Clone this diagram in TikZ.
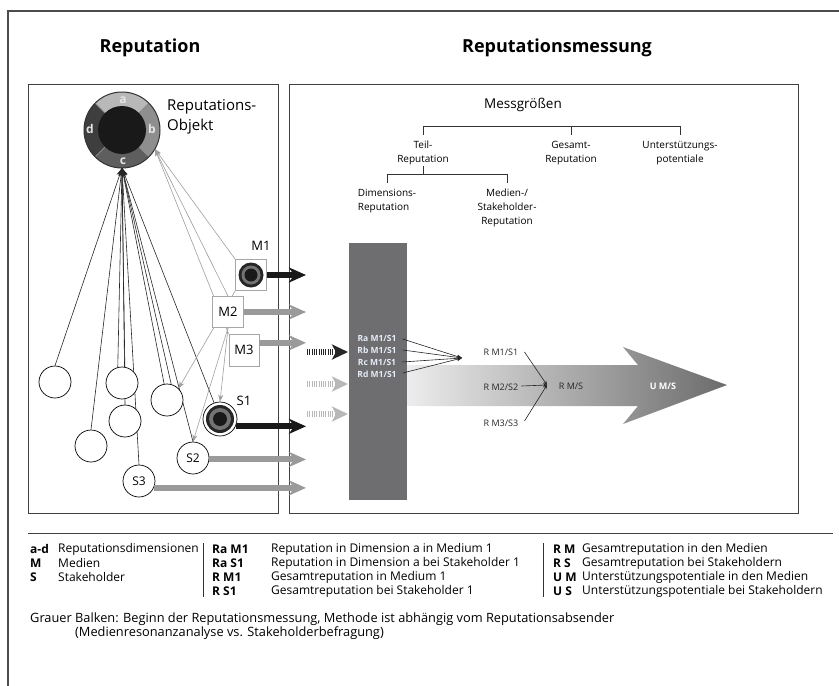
\documentclass[tikz,border=0pt]{standalone}
\usepackage{fontspec}
\setmainfont{Open Sans}
\usetikzlibrary{arrows.meta,positioning}

\definecolor{ringA}{HTML}{B8B8B8}
\definecolor{ringB}{HTML}{8E8E8E}
\definecolor{ringC}{HTML}{5E5E5E}
\definecolor{ringD}{HTML}{3E3E3E}
\definecolor{barGrey}{HTML}{6E6E70}
\definecolor{barText}{HTML}{E6ECF8}
\definecolor{arrGrey}{HTML}{9A9A9A}

\newcommand{\fsz}[2]{\fontsize{#1}{#2}\selectfont}

\begin{document}
\begin{tikzpicture}%
  [x=1pt, y=-1pt,
   >=Stealth,
   frame/.style={draw=black!75, line width=1pt},
   title/.style={font=\bfseries\fsz{18}{21}},
   smallcirc/.style={circle, draw=black, fill=white, line width=0.7pt, minimum size=32pt, inner sep=0pt, font=\fsz{12}{12}},
   mbox/.style={rectangle, draw=black!35, fill=white, line width=0.8pt, minimum size=31pt, inner sep=0pt, font=\fsz{13}{13}},
   blacklink/.style={draw=black!85, line width=0.6pt, -{Stealth[length=8pt,width=6pt]}},
   greylink/.style={draw=black!38, line width=0.6pt, -{Stealth[length=7pt,width=5pt]}},
   fatblack/.style={draw=black!90, line width=6pt, -{Stealth[length=17pt,width=15pt,inset=5pt]}},
   fatgrey/.style={draw=arrGrey, line width=6pt, -{Stealth[length=17pt,width=15pt,inset=5pt]}},
   striped/.style={line width=6.5pt, dash pattern=on 1pt off 1.3pt, -{Stealth[length=16pt,width=15pt,inset=4pt]}},
   treetext/.style={font=\fsz{10}{14}, align=center, inner sep=0pt},
   bartext/.style={font=\bfseries\fsz{8.5}{9}, text=barText, inner sep=0pt},
   rtext/.style={font=\fsz{9}{10}, text=black!85, inner sep=0pt},
   legkey/.style={font=\bfseries\fsz{12}{13}, anchor=west, inner sep=0pt},
   legtxt/.style={font=\fsz{12}{13}, anchor=west, inner sep=0pt},
   notetxt/.style={font=\fsz{12.8}{14}, anchor=west, inner sep=0pt}
  ]
\useasboundingbox (0,0) rectangle (839,686);

% outer frame (runs off the page on the right and at the bottom)
\draw[black!70, line width=1.2pt] (8,686) -- (8,11) -- (839,11);

\node[title] (tleft)  at (150,48) {Reputation};
\node[title] (tright) at (557,48) {Reputationsmessung};

\draw[frame] (28,84) rectangle (278,513);
\draw[frame] (289,84) rectangle (798,513);

%%% left panel: reputation object
\node[circle, minimum size=76pt, inner sep=0pt, outer sep=0pt] (obj) at (122,130) {};
\begin{scope}[shift={(obj.center)}]
  \fill[ringA] (0,0) -- (45:38pt) arc[start angle=45, end angle=135, radius=38pt] -- cycle;
  \fill[ringB] (0,0) -- (-45:38pt) arc[start angle=-45, end angle=45, radius=38pt] -- cycle;
  \fill[ringC] (0,0) -- (225:38pt) arc[start angle=225, end angle=315, radius=38pt] -- cycle;
  \fill[ringD] (0,0) -- (135:38pt) arc[start angle=135, end angle=225, radius=38pt] -- cycle;
  \foreach \a in {45,135,225,315}
    \draw[black!45, line width=0.8pt] (\a:24pt) -- (\a:38pt);
  \fill[black!90] (0,0) circle[radius=24pt];
  \draw[black!80, line width=1pt] (0,0) circle[radius=38pt];
\end{scope}
\node[font=\bfseries\fsz{12}{12}, text=white!90!black, inner sep=0pt] (la) at (123,100) {a};
\node[font=\bfseries\fsz{12}{12}, text=white!90!black, inner sep=0pt] (lb) at (152,129) {b};
\node[font=\bfseries\fsz{12}{12}, text=white!90!black, inner sep=0pt] (lc) at (123,161) {c};
\node[font=\bfseries\fsz{12}{12}, text=white!90!black, inner sep=0pt] (ld) at (90,129) {d};
\node[font=\fsz{15}{19.5}, align=left, anchor=west, inner sep=0pt] (objlab) at (167,117) {Reputations-\\Objekt};

%%% circles, media boxes (placed first, drawn on top later)
\path
  (55,382)  coordinate (pc1)
  (122,383) coordinate (pc2)
  (167,400) coordinate (pc3)
  (125,421) coordinate (pc4)
  (91,446)  coordinate (pc5)
  (220,419) coordinate (ps1)
  (193,458) coordinate (ps2)
  (139,481) coordinate (ps3)
  (251,275) coordinate (pm1)
  (228,312) coordinate (pm2)
  (244,350) coordinate (pm3);

% invisible placeholders so that the links can use anchors
\node[smallcirc, draw=none, fill=none] (c1) at (pc1) {};
\node[smallcirc, draw=none, fill=none] (c2) at (pc2) {};
\node[smallcirc, draw=none, fill=none] (c3) at (pc3) {};
\node[smallcirc, draw=none, fill=none] (c4) at (pc4) {};
\node[smallcirc, draw=none, fill=none] (c5) at (pc5) {};
\node[smallcirc, draw=none, fill=none, minimum size=34pt] (s1) at (ps1) {};
\node[smallcirc, draw=none, fill=none] (s2) at (ps2) {};
\node[smallcirc, draw=none, fill=none] (s3) at (ps3) {};
\node[mbox, draw=none, fill=none] (m1) at (pm1) {};
\node[mbox, draw=none, fill=none] (m2) at (pm2) {};
\node[mbox, draw=none, fill=none, minimum height=32pt, minimum width=30pt] (m3) at (pm3) {};

% links to the reputation object
\draw[blacklink] (c1.north) -- (obj.south);
\draw[blacklink] (c5.north) -- (obj.south);
\draw[blacklink] (c2.105) -- (obj.south);
\draw[blacklink] (c2.80)  -- (obj.south);
\draw[blacklink] (c4.north) -- (obj.south);
\draw[blacklink] (s3.north) -- (obj.south);
\draw[blacklink] (c3.100) -- (obj.south);
\draw[blacklink] (c3.75)  -- (obj.south);
\draw[blacklink] (s2.north) -- (obj.south);
\draw[blacklink] (s1.110) -- (obj.south);

\draw[greylink] (m1.north west) -- (obj.-30);
\draw[greylink] (m2.north) -- (obj.-30);
\draw[greylink] (m3.north west) -- (obj.-30);
\draw[greylink] (m1.south west) -- (c3.45);
\draw[greylink] (m2.south) -- (s2.north);
\draw[greylink] (m2.south) -- (s1.north);

% visible circles and boxes
\node[smallcirc] (c1v) at (pc1) {};
\node[smallcirc] (c2v) at (pc2) {};
\node[smallcirc] (c3v) at (pc3) {};
\node[smallcirc] (c4v) at (pc4) {};
\node[smallcirc] (c5v) at (pc5) {};
\node[smallcirc] (s2v) at (ps2) {S2};
\node[smallcirc] (s3v) at (ps3) {S3};
\node[smallcirc, minimum size=34pt] (s1v) at (ps1) {};
\fill[black!85] (s1v.center) circle[radius=14pt];
\fill[black!55] (s1v.center) circle[radius=11pt];
\fill[black!90] (s1v.center) circle[radius=7pt];
\node[mbox] (m1v) at (pm1) {};
\fill[black!85] (m1v.center) circle[radius=12.5pt];
\fill[black!55] (m1v.center) circle[radius=9.5pt];
\fill[black!90] (m1v.center) circle[radius=6.5pt];
\node[mbox] (m2v) at (pm2) {M2};
\node[mbox, minimum height=32pt, minimum width=30pt] (m3v) at (pm3) {M3};
\node[font=\fsz{13}{13}, inner sep=0pt] (m1lab) at (261,246) {M1};
\node[font=\fsz{13}{13}, inner sep=0pt] (s1lab) at (244,401) {S1};

% fat arrows into the measurement panel
\coordinate (outx) at (306,0);
\draw[fatblack] (m1.east) -- (m1.east -| outx);
\draw[fatgrey]  (m2.east) -- (m2.east -| outx);
\draw[fatgrey]  (m3.25) -- (m3.25 -| outx);
\draw[fatblack] (s1.-25) -- (s1.-25 -| outx);
\draw[fatgrey]  (s2.-5) -- (s2.-5 -| outx);
\draw[fatgrey]  (s3.-25) -- (s3.-25 -| outx);

%%% right panel: tree of measures
\node[font=\fsz{13.5}{15}, inner sep=0pt] (mg) at (523,105) {Messgrößen};
\node[treetext] (teil)   at (423,153) {Teil-\\Reputation};
\node[treetext] (gesamt) at (571,153) {Gesamt-\\Reputation};
\node[treetext] (unter)  at (680,153) {Unterstützungs-\\potentiale};
\node[treetext, align=left] (dim) at (387,201) {Dimensions-\\Reputation};
\node[treetext] (med) at (507,208) {Medien-/\\Stakeholder-\\Reputation};

\coordinate (lvA) at (0,126);
\coordinate (lvB) at (0,135);
\coordinate (lvC) at (0,166);
\coordinate (lvD) at (0,174);
\coordinate (lvE) at (0,183);
\draw[black!80, line width=0.8pt] (teil.north |- lvB) -- (teil.north |- lvA) -- (unter.north |- lvA) -- (unter.north |- lvB);
\draw[black!80, line width=0.8pt] (gesamt.north |- lvA) -- (gesamt.north |- lvB);
\draw[black!80, line width=0.8pt] (teil.south |- lvC) -- (teil.south |- lvD);
\draw[black!80, line width=0.8pt] (dim.north |- lvE) -- (dim.north |- lvD) -- (med.north |- lvD) -- (med.north |- lvE);

%%% big shaded arrow
\shade[left color=black!6, right color=black!58]
  (400,365) -- (638,365) -- (623,347) -- (727,385) -- (623,424) -- (638,406) -- (400,406) -- cycle;

% grey bar
\node[fill=barGrey, minimum width=58pt, minimum height=257pt, inner sep=0pt] (bar) at (378,371.5) {};
\node[bartext] (ra) at (377,338) {Ra M1/S1};
\node[bartext] (rb) at (377,350) {Rb M1/S1};
\node[bartext] (rc) at (377,362) {Rc M1/S1};
\node[bartext] (rd) at (377,374) {Rd M1/S1};

% striped arrows entering the bar
\coordinate (st1a) at (307,352);  \coordinate (st1b) at (348,352);
\coordinate (st2a) at (307,384);  \coordinate (st2b) at (348,384);
\coordinate (st3a) at (307,414);  \coordinate (st3b) at (348,414);
\draw[striped, draw=black!85] (st1a) -- (st1b);
\draw[striped, draw=black!28] (st2a) -- (st2b);
\draw[striped, draw=black!28] (st3a) -- (st3b);

% partial reputations
\coordinate (rsum) at (462,358);
\draw[black!85, line width=0.6pt, -{Stealth[length=5pt,width=4pt]}] (ra.east) ++(6,1) -- (rsum);
\draw[black!85, line width=0.6pt, -{Stealth[length=5pt,width=4pt]}] (rb.east) ++(6,0) -- (rsum);
\draw[black!85, line width=0.6pt, -{Stealth[length=5pt,width=4pt]}] (rc.east) ++(6,0) -- (rsum);
\draw[black!85, line width=0.6pt, -{Stealth[length=5pt,width=4pt]}] (rd.east) ++(6,-1) -- (rsum);

\node[rtext] (rm1) at (501,352) {R M1/S1};
\node[rtext] (rm2) at (501,387) {R M2/S2};
\node[rtext] (rm3) at (501,423) {R M3/S3};
\node[rtext] (rms) at (571,386) {R M/S};
\node[rtext, text=white, font=\bfseries\fsz{9}{10}] (ums) at (663,386) {U M/S};
\coordinate (conv) at (547,385);
\draw[black!85, line width=0.6pt, -{Stealth[length=4pt,width=3.5pt]}] (rm1.east) ++(6,0) -- (conv);
\draw[black!85, line width=0.6pt, -{Stealth[length=4pt,width=3.5pt]}] (rm2.east) ++(3,-1) -- (conv);
\draw[black!85, line width=0.6pt, -{Stealth[length=4pt,width=3.5pt]}] (rm3.east) ++(6,-2) -- (conv);

%%% legend
\draw[black!75, line width=1pt] (28,533) -- (833,533);
\draw[black!80, line width=0.7pt] (203,543) -- (203,597);
\draw[black!80, line width=0.7pt] (543,543) -- (543,597);
\foreach \k/\t [count=\i] in {a-d/Reputationsdimensionen, M/Medien, S/Stakeholder} {
  \node[legkey] (ka\i) at (30,535+14*\i) {\k};
  \node[legtxt] (ta\i) at (58,535+14*\i) {\t};
}
\foreach \k/\t [count=\i] in {Ra M1/Reputation in Dimension a in Medium 1,
                               Ra S1/Reputation in Dimension a bei Stakeholder 1,
                               R M1/Gesamtreputation in Medium 1,
                               R S1/Gesamtreputation bei Stakeholder 1} {
  \node[legkey] (kb\i) at (212,535+14*\i) {\k};
  \node[legtxt] (tb\i) at (271,535+14*\i) {\t};
}
\foreach \k/\t [count=\i] in {R M/Gesamtreputation in den Medien,
                               R S/Gesamtreputation bei Stakeholdern,
                               U M/Unterstützungspotentiale in den Medien,
                               U S/Unterstützungspotentiale bei Stakeholdern} {
  \node[legkey] (kc\i) at (553,535+14*\i) {\k};
  \node[legtxt] (tc\i) at (582,535+14*\i) {\t};
}
\node[notetxt] (note1) at (30,619) {Grauer Balken: Beginn der Reputationsmessung, Methode ist abhängig vom Reputationsabsender};
\node[notetxt] (note2) at (75,633) {(Medienresonanzanalyse vs. Stakeholderbefragung)};
\end{tikzpicture}
\end{document}
